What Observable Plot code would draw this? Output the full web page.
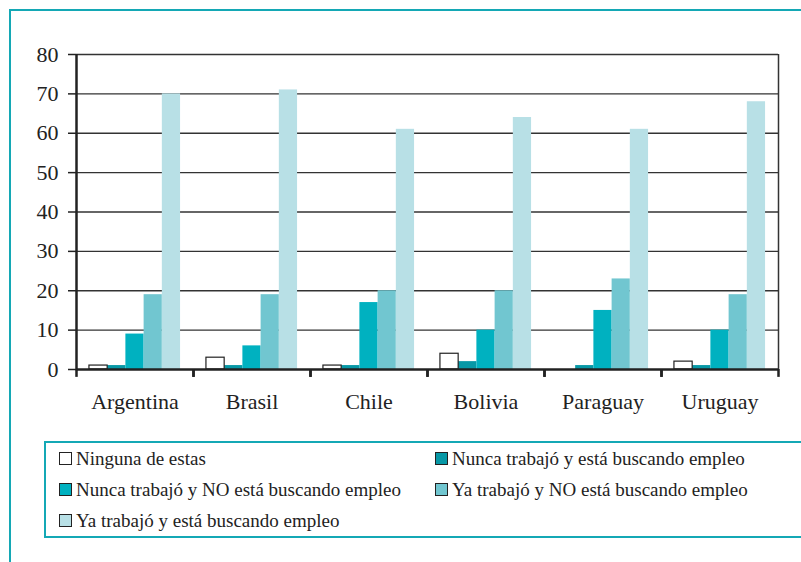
<!DOCTYPE html>
<html>
<head>
<meta charset="utf-8">
<script src="https://cdn.jsdelivr.net/npm/d3@7"></script>
<script src="https://cdn.jsdelivr.net/npm/@observablehq/plot@0.6"></script>
<style>
  html, body { margin: 0; padding: 0; background: #fff; }
  #wrap { position: relative; width: 801px; height: 562px; overflow: hidden; background: #fff; }
  #frame { position: absolute; left: 9px; top: 9px; right: -5px; bottom: -5px; border-top: 2px solid #14a8b5; border-left: 2px solid #14a8b5; }
  #chart { position: absolute; left: 0; top: 0; }
  #chart svg { overflow: visible; }
  #legend { position: absolute; left: 44px; top: 441px; width: 749px; height: 93px; border: 2px solid #14a8b5;
            display: grid; grid-template-columns: 376px auto; grid-auto-rows: 31px; padding-left: 13px; box-sizing: content-box; }
  #legend .item { display: flex; align-items: center; font-size: 19px; color: #222; white-space: nowrap; }
  #legend .sw { width: 11px; height: 11px; border: 1px solid #222; margin-right: 4px; flex: none; }
  #wrap, #wrap * { font-family: "Liberation Serif", serif !important; }
</style>
</head>
<body>
<div id="wrap">
  <div id="frame"></div>
  <div id="chart"></div>
  <div id="legend"></div>
</div>
<script>
const countries = ["Argentina", "Brasil", "Chile", "Bolivia", "Paraguay", "Uruguay"];
const series = [
  "Ninguna de estas",
  "Nunca trabajó y está buscando empleo",
  "Nunca trabajó y NO está buscando empleo",
  "Ya trabajó y NO está buscando empleo",
  "Ya trabajó y está buscando empleo"
];
const colors = ["#ffffff", "#0798a6", "#00b1c0", "#71c6d0", "#b8e0e6"];
const ninguna    = [1, 3, 1, 4, 0, 2];
const nuncaBusca = [1, 1, 1, 2, 1, 1];
const nuncaNo    = [9, 6, 17, 10, 15, 10];
const yaNo       = [19, 19, 20, 20, 23, 19];
const yaBusca    = [70, 71, 61, 64, 61, 68];
const yTicks = [0, 10, 20, 30, 40, 50, 60, 70, 80];

const values = [ninguna, nuncaBusca, nuncaNo, yaNo, yaBusca];
const rows = [];
countries.forEach((c, ci) => {
  series.forEach((s, si) => {
    rows.push({country: c, series: s, i: si, value: values[si][ci]});
  });
});

const pad = 0.71;
const xLo = -pad, xHi = series.length + pad;
const FONT = '"Liberation Serif", serif';

const chart = Plot.plot({
  width: 801,
  height: 430,
  marginLeft: 74,
  marginRight: 22,
  marginTop: 54,
  marginBottom: 61,
  style: {fontSize: "22px", color: "#222", background: "transparent"},
  fx: {domain: countries, padding: 0, label: null, axis: "bottom", tickSize: 0, tickPadding: 24},
  x: {domain: [xLo, xHi], axis: null},
  y: {domain: [0, 80], ticks: yTicks, tickSize: 8, tickPadding: 10, label: null},
  color: {domain: series, range: colors},
  marks: [
    Plot.ruleY(yTicks.filter(d => d > 0), {stroke: "#333", strokeWidth: 1.3}),
    Plot.rectY(rows, {fx: "country", x1: "i", x2: d => d.i + 1, y1: 0, y2: "value", fill: "series"}),
    Plot.rectY(rows.filter(d => d.i === 0 && d.value > 0), {fx: "country", x1: "i", x2: d => d.i + 1, y1: 0, y2: "value", fill: "none", stroke: "#222", strokeWidth: 1.2}),
    Plot.ruleX([{country: countries[countries.length - 1]}], {fx: "country", x: () => xHi, y1: 0, y2: 80, stroke: "#333", strokeWidth: 1.5}),
    Plot.ruleY([0], {stroke: "#222", strokeWidth: 2.5}),
    Plot.ruleX([xLo, xHi], {y1: 0, y2: -2, stroke: "#222", strokeWidth: 2.5}),
    Plot.ruleX([{country: countries[0]}], {fx: "country", x: () => xLo, y1: -0.3, y2: 80, stroke: "#222", strokeWidth: 2.5})
  ]
});
chart.style.setProperty("font-family", FONT, "important");
d3.select(chart).selectAll("text, tspan, g").each(function() { this.style.setProperty("font-family", FONT, "important"); });
document.getElementById("chart").appendChild(chart);
d3.select(chart).selectAll("[aria-label='y-axis tick'] path, [aria-label='y-axis'] path").attr("stroke-width", 1.5);

const legend = d3.select("#legend");
series.forEach((s, i) => {
  const item = legend.append("div").attr("class", "item");
  item.node().style.setProperty("font-family", FONT, "important");
  item.append("span").attr("class", "sw").style("background", colors[i]);
  item.append("span").text(s).node().style.setProperty("font-family", FONT, "important");
});
</script>
</body>
</html>
